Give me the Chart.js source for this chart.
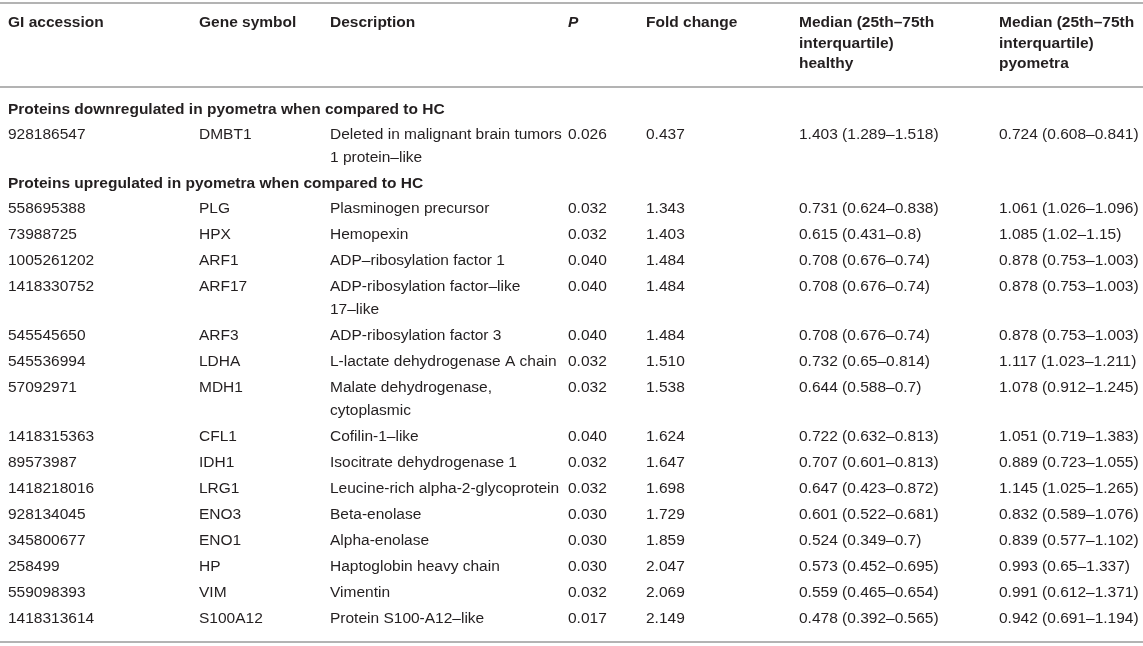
<!DOCTYPE html>
<html>
<head>
<meta charset="utf-8">
<script src="https://cdn.jsdelivr.net/npm/chart.js@4/dist/chart.umd.min.js"></script>
<style>
  html, body { margin: 0; padding: 0; background: #fff; }
  #wrap { width: 1143px; height: 646px; }
</style>
</head>
<body>
<div id="wrap"><canvas id="myChart" width="1143" height="646"></canvas></div>
<script>
// table data
const headers = [
  ['GI accession'],
  ['Gene symbol'],
  ['Description'],
  ['P'],
  ['Fold change'],
  ['Median (25th\u201375th', 'interquartile)', 'healthy'],
  ['Median (25th\u201375th', 'interquartile)', 'pyometra']
];
const sectionTitles = [
  'Proteins downregulated in pyometra when compared to HC',
  'Proteins upregulated in pyometra when compared to HC'
];
// row index where each section starts
const sectionStart = [0, 1];

const giAccession = ['928186547', '558695388', '73988725', '1005261202', '1418330752', '545545650',
  '545536994', '57092971', '1418315363', '89573987', '1418218016', '928134045', '345800677',
  '258499', '559098393', '1418313614'];
const geneSymbol = ['DMBT1', 'PLG', 'HPX', 'ARF1', 'ARF17', 'ARF3', 'LDHA', 'MDH1', 'CFL1', 'IDH1',
  'LRG1', 'ENO3', 'ENO1', 'HP', 'VIM', 'S100A12'];
const description = [
  ['Deleted in malignant brain tumors', '1 protein\u2013like'],
  ['Plasminogen precursor'],
  ['Hemopexin'],
  ['ADP\u2013ribosylation factor 1'],
  ['ADP-ribosylation factor\u2013like', '17\u2013like'],
  ['ADP-ribosylation factor 3'],
  ['L-lactate dehydrogenase A chain'],
  ['Malate dehydrogenase,', 'cytoplasmic'],
  ['Cofilin-1\u2013like'],
  ['Isocitrate dehydrogenase 1'],
  ['Leucine-rich alpha-2-glycoprotein'],
  ['Beta-enolase'],
  ['Alpha-enolase'],
  ['Haptoglobin heavy chain'],
  ['Vimentin'],
  ['Protein S100-A12\u2013like']
];
const pValue = [0.026, 0.032, 0.032, 0.040, 0.040, 0.040, 0.032, 0.032, 0.040, 0.032, 0.032, 0.030, 0.030, 0.030, 0.032, 0.017];
const foldChange = [0.437, 1.343, 1.403, 1.484, 1.484, 1.484, 1.510, 1.538, 1.624, 1.647, 1.698, 1.729, 1.859, 2.047, 2.069, 2.149];
const healthyMedian = [1.403, 0.731, 0.615, 0.708, 0.708, 0.708, 0.732, 0.644, 0.722, 0.707, 0.647, 0.601, 0.524, 0.573, 0.559, 0.478];
const healthyQ1 = [1.289, 0.624, 0.431, 0.676, 0.676, 0.676, 0.65, 0.588, 0.632, 0.601, 0.423, 0.522, 0.349, 0.452, 0.465, 0.392];
const healthyQ3 = [1.518, 0.838, 0.8, 0.74, 0.74, 0.74, 0.814, 0.7, 0.813, 0.813, 0.872, 0.681, 0.7, 0.695, 0.654, 0.565];
const pyoMedian = [0.724, 1.061, 1.085, 0.878, 0.878, 0.878, 1.117, 1.078, 1.051, 0.889, 1.145, 0.832, 0.839, 0.993, 0.991, 0.942];
const pyoQ1 = [0.608, 1.026, 1.02, 0.753, 0.753, 0.753, 1.023, 0.912, 0.719, 0.723, 1.025, 0.589, 0.577, 0.65, 0.612, 0.691];
const pyoQ3 = [0.841, 1.096, 1.15, 1.003, 1.003, 1.003, 1.211, 1.245, 1.383, 1.055, 1.265, 1.076, 1.102, 1.337, 1.371, 1.194];

// layout (pixel units of the 1:1 scales)
const W = 1143, H = 646;
const colX = [8, 199, 330, 568, 646, 799, 999];
const headerY = 23, headerLineH = 20.5;
const bodyLineH = 23, rowPad = 3, sectionStep = 25;
const rules = [3, 87, 642];
const firstRowY = 110;
const FONT = '"Liberation Sans", Arial, Helvetica, sans-serif';
const SIZE = '15.5px ';
const TEXT = '#231f20';

const range = (q1, q3) => '(' + q1 + '\u2013' + q3 + ')';
const cells = giAccession.map((gi, i) => [
  [gi],
  [geneSymbol[i]],
  description[i],
  [pValue[i].toFixed(3)],
  [foldChange[i].toFixed(3)],
  [healthyMedian[i].toFixed(3) + ' ' + range(healthyQ1[i], healthyQ3[i])],
  [pyoMedian[i].toFixed(3) + ' ' + range(pyoQ1[i], pyoQ3[i])]
]);

// vertical positions: section title rows interleaved with data rows
const rowLayout = [];
let cursor = firstRowY;
giAccession.forEach((gi, i) => {
  const s = sectionStart.indexOf(i);
  if (s >= 0) {
    rowLayout.push({ kind: 'section', y: cursor, text: sectionTitles[s] });
    cursor += sectionStep;
  }
  const lines = Math.max(...cells[i].map(c => c.length));
  rowLayout.push({ kind: 'data', y: cursor, idx: i });
  cursor += rowPad + bodyLineH * lines;
});

const cellPoints = colX.map((x, c) => ({
  type: 'scatter',
  data: rowLayout.filter(r => r.kind === 'data').map(r => ({ x: x, y: r.y, row: r.idx, col: c })),
  pointRadius: 0,
  pointHoverRadius: 0
}));
const sectionPoints = {
  type: 'scatter',
  data: rowLayout.filter(r => r.kind === 'section').map(r => ({ x: colX[0], y: r.y, text: r.text })),
  pointRadius: 0,
  pointHoverRadius: 0
};
const ruleLines = rules.map(y => ({
  type: 'line',
  data: [{ x: 0, y: y }, { x: W, y: y }],
  borderColor: '#b3b3b3',
  borderWidth: 2,
  pointRadius: 0,
  showLine: true
}));

const tableText = {
  id: 'tableText',
  afterDatasetsDraw(chart) {
    const ctx = chart.ctx;
    const xs = chart.scales.x, ys = chart.scales.y;
    ctx.save();
    ctx.fillStyle = TEXT;
    ctx.textBaseline = 'middle';
    ctx.textAlign = 'left';
    // header
    headers.forEach((lines, c) => {
      ctx.font = (c === 3 ? 'italic ' : '') + 'bold ' + SIZE + FONT;
      lines.forEach((t, k) => {
        ctx.fillText(t, xs.getPixelForValue(colX[c]), ys.getPixelForValue(headerY + k * headerLineH));
      });
    });
    // section titles
    ctx.font = 'bold ' + SIZE + FONT;
    sectionPoints.data.forEach(p => {
      ctx.fillText(p.text, xs.getPixelForValue(p.x), ys.getPixelForValue(p.y));
    });
    // body cells
    ctx.font = SIZE + FONT;
    cellPoints.forEach(ds => {
      ds.data.forEach(p => {
        cells[p.row][p.col].forEach((t, k) => {
          ctx.fillText(t, xs.getPixelForValue(p.x), ys.getPixelForValue(p.y + k * bodyLineH));
        });
      });
    });
    ctx.restore();
  }
};

new Chart(document.getElementById('myChart'), {
  type: 'scatter',
  data: { datasets: [...ruleLines, sectionPoints, ...cellPoints] },
  options: {
    responsive: false,
    animation: false,
    layout: { padding: 0 },
    plugins: { legend: { display: false }, tooltip: { enabled: false } },
    scales: {
      x: { type: 'linear', min: 0, max: W, display: false },
      y: { type: 'linear', min: 0, max: H, reverse: true, display: false }
    }
  },
  plugins: [tableText]
});
</script>
</body>
</html>
